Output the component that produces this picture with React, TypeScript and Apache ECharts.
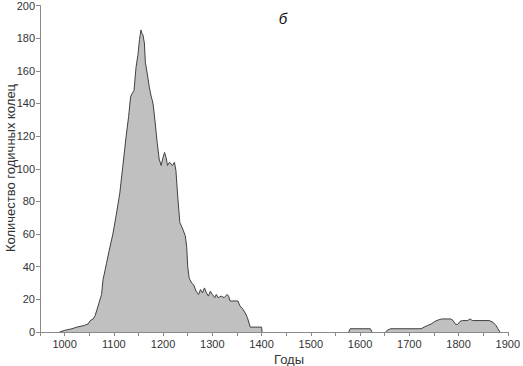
import React, { useEffect, useRef } from "react";
import * as echarts from "echarts";

const years: number[] = [
  990, 1000, 1015, 1025, 1040, 1048, 1052, 1058, 1062, 1066, 1070, 1075, 1078, 1085, 1092, 1098,
  1105, 1112, 1118, 1125, 1130, 1134, 1137, 1141, 1145, 1149, 1152, 1155, 1157, 1159, 1162, 1164,
  1168, 1172, 1176, 1178, 1180, 1184, 1188, 1192, 1196, 1200, 1203, 1206, 1209, 1213, 1216, 1219,
  1223, 1226, 1230, 1234, 1240, 1245, 1248, 1250, 1253, 1258, 1262, 1267, 1272, 1276, 1280, 1284,
  1288, 1292, 1296, 1300, 1305, 1308, 1312, 1318, 1324, 1330, 1333, 1336, 1352, 1356, 1362, 1368,
  1372, 1377, 1400, 1401,
  1490,
  1577, 1580, 1621, 1624,
  1640,
  1652, 1655, 1662, 1724, 1730, 1737, 1745, 1752, 1760, 1766, 1784, 1789, 1793, 1798, 1803, 1808,
  1818, 1824, 1828, 1862, 1870, 1876, 1880, 1884,
];

const ringCounts: (number | null)[] = [
  0, 1, 2, 3, 4, 5, 7, 8, 10, 14, 18, 23, 32, 42, 52, 60,
  72, 85, 101, 120, 132, 144, 146, 148, 162, 170, 179, 185, 183, 182, 177, 165,
  158, 150, 144, 142, 139, 128, 116, 106, 102, 107, 110, 107, 102, 104, 103, 102,
  104, 99, 82, 67, 63, 59, 52, 40, 33, 30, 29, 25, 23, 26, 24, 27,
  24, 22, 25, 23, 21, 23, 21, 22, 21, 23, 22, 19, 19, 16, 14, 11,
  8, 3, 3, 0,
  null,
  0, 2, 2, 0,
  null,
  0, 1, 2, 2, 3, 4, 5, 6.5, 7.5, 8, 8, 7, 5, 4.5, 6.5, 7,
  7, 8, 7, 7, 6, 4, 2, 0,
];

const xTickLabels: number[] = [1000, 1100, 1200, 1300, 1400, 1500, 1600, 1700, 1800, 1900];
const yTickLabels: number[] = [0, 20, 40, 60, 80, 100, 120, 140, 160, 180, 200];

const panelLabel = "б";
const xName = "Годы";
const yName = "Количество годичных колец";

export default function App() {
  const ref = useRef<HTMLDivElement>(null);
  useEffect(() => {
    if (!ref.current) return;
    const chart = echarts.init(ref.current, undefined, { renderer: "svg" });
    const data = years.map((y, i) => [y, ringCounts[i] === null ? "-" : ringCounts[i]]);
    const font = "Liberation Sans, Arial, sans-serif";
    chart.setOption({
      animation: false,
      backgroundColor: "#ffffff",
      grid: { left: 40, right: 13, top: 5, bottom: 34, containLabel: false },
      xAxis: {
        type: "value",
        min: 950,
        max: 1900,
        interval: 50,
        axisLine: { show: true, lineStyle: { color: "#8a8a8a", width: 1 } },
        axisTick: { show: true, length: 4, lineStyle: { color: "#8a8a8a" } },
        splitLine: { show: false },
        axisLabel: {
          color: "#333333",
          fontFamily: font,
          fontSize: 11,
          margin: 6,
          formatter: (v: number) => (xTickLabels.includes(v) ? String(v) : ""),
        },
      },
      yAxis: {
        type: "value",
        min: 0,
        max: 200,
        interval: 20,
        axisLine: { show: true, lineStyle: { color: "#8a8a8a", width: 1 } },
        axisTick: { show: true, length: 4, lineStyle: { color: "#8a8a8a" } },
        splitLine: { show: false },
        axisLabel: {
          color: "#333333",
          fontFamily: font,
          fontSize: 11,
          margin: 5,
          formatter: (v: number) => (yTickLabels.includes(v) ? String(v) : ""),
        },
      },
      graphic: [
        {
          type: "text",
          x: 283,
          y: 18,
          style: {
            text: panelLabel,
            font: "italic 15px Liberation Sans, Arial, sans-serif",
            fill: "#111111",
            textAlign: "center",
            textVerticalAlign: "middle",
          },
        },
        {
          type: "text",
          x: 289,
          y: 359,
          style: {
            text: xName,
            font: "13px Liberation Sans, Arial, sans-serif",
            fill: "#333333",
            textAlign: "center",
            textVerticalAlign: "middle",
          },
        },
        {
          type: "text",
          x: 10,
          y: 168,
          rotation: Math.PI / 2,
          style: {
            text: yName,
            font: "13px Liberation Sans, Arial, sans-serif",
            fill: "#333333",
            textAlign: "center",
            textVerticalAlign: "middle",
          },
        },
      ],
      series: [
        {
          type: "line",
          data,
          showSymbol: false,
          symbol: "none",
          connectNulls: false,
          lineStyle: { color: "#404040", width: 1 },
          areaStyle: { color: "#c0c0c0", opacity: 1 },
        },
      ],
    });
    return () => chart.dispose();
  }, []);
  return <div ref={ref} style={{ width: 523, height: 366, position: "absolute", left: 0, top: 0 }} />;
}
